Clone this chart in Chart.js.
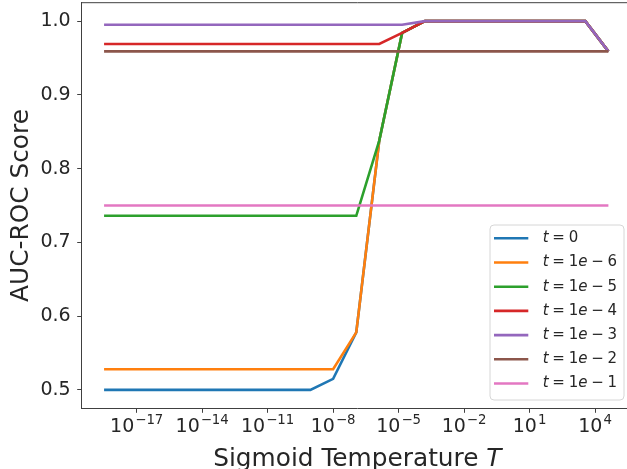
<!DOCTYPE html>
<html>
<head>
<meta charset="utf-8">
<script src="https://cdn.jsdelivr.net/npm/chart.js@4/dist/chart.umd.min.js"></script>
<style>
  html, body { margin: 0; padding: 0; background: #fff; overflow: hidden; width: 627px; height: 469px; }
  #wrap { width: 627px; height: 469px; overflow: hidden; position: relative; }
  canvas { display: block; }
</style>
</head>
<body>
<div id="wrap"><canvas id="chart" width="640" height="469"></canvas></div>
<script>
// Sigmoid temperatures T (log-spaced sweep)
const temperatures = [3.2e-19, 3.6e-18, 4.1e-17, 4.6e-16, 5.1e-15, 5.8e-14, 6.5e-13, 7.2e-12,
  8.1e-11, 9.1e-10, 1.0e-8, 1.15e-7, 1.3e-6, 1.45e-5, 1.6e-4, 1.8e-3, 2.0e-2, 0.23, 2.6, 29,
  320, 3600, 41000];

// AUC-ROC score per threshold t
const seriesLabels = ['t = 0', 't = 1e − 6', 't = 1e − 5', 't = 1e − 4', 't = 1e − 3', 't = 1e − 2', 't = 1e − 1'];
const aucT0    = [0.5, 0.5, 0.5, 0.5, 0.5, 0.5, 0.5, 0.5, 0.5, 0.5, 0.515, 0.578, 0.838, 0.984, 1.0, 1.0, 1.0, 1.0, 1.0, 1.0, 1.0, 1.0, 0.959];
const aucT1e6  = [0.528, 0.528, 0.528, 0.528, 0.528, 0.528, 0.528, 0.528, 0.528, 0.528, 0.528, 0.578, 0.838, 0.984, 1.0, 1.0, 1.0, 1.0, 1.0, 1.0, 1.0, 1.0, 0.959];
const aucT1e5  = [0.736, 0.736, 0.736, 0.736, 0.736, 0.736, 0.736, 0.736, 0.736, 0.736, 0.736, 0.736, 0.838, 0.984, 1.0, 1.0, 1.0, 1.0, 1.0, 1.0, 1.0, 1.0, 0.959];
const aucT1e4  = [0.969, 0.969, 0.969, 0.969, 0.969, 0.969, 0.969, 0.969, 0.969, 0.969, 0.969, 0.969, 0.969, 0.984, 1.0, 1.0, 1.0, 1.0, 1.0, 1.0, 1.0, 1.0, 0.959];
const aucT1e3  = [0.995, 0.995, 0.995, 0.995, 0.995, 0.995, 0.995, 0.995, 0.995, 0.995, 0.995, 0.995, 0.995, 0.995, 1.0, 1.0, 1.0, 1.0, 1.0, 1.0, 1.0, 1.0, 0.959];
const aucT1e2  = [0.959, 0.959, 0.959, 0.959, 0.959, 0.959, 0.959, 0.959, 0.959, 0.959, 0.959, 0.959, 0.959, 0.959, 0.959, 0.959, 0.959, 0.959, 0.959, 0.959, 0.959, 0.959, 0.959];
const aucT1e1  = [0.75, 0.75, 0.75, 0.75, 0.75, 0.75, 0.75, 0.75, 0.75, 0.75, 0.75, 0.75, 0.75, 0.75, 0.75, 0.75, 0.75, 0.75, 0.75, 0.75, 0.75, 0.75, 0.75];

// Axis ticks
const xTickExponents = [-17, -14, -11, -8, -5, -2, 1, 4];
const yTickValues = [0.5, 0.6, 0.7, 0.8, 0.9, 1.0];

const seriesValues = [aucT0, aucT1e6, aucT1e5, aucT1e4, aucT1e3, aucT1e2, aucT1e1];
const palette = ['#1f77b4', '#ff7f0e', '#2ca02c', '#d62728', '#9467bd', '#8c564b', '#e377c2'];
const FONT = '"DejaVu Sans", "Liberation Sans", sans-serif';
const TEXT = '#262626';
const SPINE = '#404040';
const TICK_SIZE = 19;
const TITLE_SIZE = 24.8;

// Draws text where letters are italic (math style), spaces are operator gaps
function drawMathText(ctx, text, x, y, size) {
  let cx = x;
  for (const ch of text) {
    if (ch === ' ') { cx += size * 0.25; continue; }
    const italic = /[a-zA-Z]/.test(ch);
    ctx.font = (italic ? 'italic ' : '') + size + 'px ' + FONT;
    ctx.fillText(ch, cx, y);
    cx += ctx.measureText(ch).width;
  }
}

const frame = {
  id: 'frame',
  afterDraw(chart) {
    const { ctx, chartArea: ca } = chart;
    const xs = chart.scales.x;
    ctx.save();
    // top spine
    ctx.strokeStyle = SPINE;
    ctx.lineWidth = 1;
    ctx.beginPath();
    ctx.moveTo(ca.left, ca.top);
    ctx.lineTo(ca.right, ca.top);
    ctx.stroke();

    // power-of-ten tick labels with raised exponents
    ctx.fillStyle = TEXT;
    ctx.textBaseline = 'alphabetic';
    ctx.textAlign = 'left';
    const sup = 13.3;
    xs.ticks.forEach(t => {
      const e = Math.round(Math.log10(t.value));
      const px = xs.getPixelForValue(t.value);
      const expText = (e < 0 ? '−' : '') + Math.abs(e);
      ctx.font = TICK_SIZE + 'px ' + FONT;
      const w1 = ctx.measureText('10').width;
      ctx.font = sup + 'px ' + FONT;
      const w2 = ctx.measureText(expText).width;
      const left = px - (w1 + w2 + 1) / 2;
      ctx.font = TICK_SIZE + 'px ' + FONT;
      ctx.fillText('10', left, 432);
      ctx.font = sup + 'px ' + FONT;
      ctx.fillText(expText, left + w1 + 1, 423.5);
    });

    // x axis title with italic T
    const partA = 'Sigmoid Temperature ';
    ctx.font = TITLE_SIZE + 'px ' + FONT;
    const wA = ctx.measureText(partA).width;
    ctx.font = 'italic ' + TITLE_SIZE + 'px ' + FONT;
    const wB = ctx.measureText('T').width;
    const cx = (ca.left + ca.right) / 2;
    const x0 = cx - (wA + wB) / 2;
    ctx.font = TITLE_SIZE + 'px ' + FONT;
    ctx.fillText(partA, x0, 466);
    ctx.font = 'italic ' + TITLE_SIZE + 'px ' + FONT;
    ctx.fillText('T', x0 + wA, 466);
    ctx.restore();
  }
};

const legendBox = {
  id: 'legendBox',
  afterDraw(chart) {
    const { ctx, chartArea: ca } = chart;
    const ds = chart.data.datasets;
    const fs = 15, rowH = 24.2, w = 134, h = 175, r = 4;
    const x0 = ca.right - 9 - w;
    const y0 = ca.bottom - 8.3 - h;
    ctx.save();
    ctx.beginPath();
    ctx.moveTo(x0 + r, y0);
    ctx.lineTo(x0 + w - r, y0);
    ctx.arcTo(x0 + w, y0, x0 + w, y0 + r, r);
    ctx.lineTo(x0 + w, y0 + h - r);
    ctx.arcTo(x0 + w, y0 + h, x0 + w - r, y0 + h, r);
    ctx.lineTo(x0 + r, y0 + h);
    ctx.arcTo(x0, y0 + h, x0, y0 + h - r, r);
    ctx.lineTo(x0, y0 + r);
    ctx.arcTo(x0, y0, x0 + r, y0, r);
    ctx.closePath();
    ctx.fillStyle = 'rgba(255,255,255,0.8)';
    ctx.fill();
    ctx.strokeStyle = '#d6d6d6';
    ctx.lineWidth = 1;
    ctx.stroke();

    ds.forEach((d, i) => {
      const cy = y0 + 13.3 + i * rowH;
      ctx.strokeStyle = d.borderColor;
      ctx.lineWidth = d.borderWidth;
      ctx.beginPath();
      ctx.moveTo(x0 + 4, cy);
      ctx.lineTo(x0 + 38.3, cy);
      ctx.stroke();
      ctx.fillStyle = TEXT;
      ctx.textBaseline = 'middle';
      drawMathText(ctx, d.label, x0 + 52.7, cy, fs);
    });
    ctx.restore();
  }
};

const datasets = seriesValues.map((vals, i) => ({
  label: seriesLabels[i],
  data: temperatures.map((t, j) => ({ x: t, y: vals[j] })),
  borderColor: palette[i],
  backgroundColor: palette[i],
  borderWidth: 2.6,
  pointRadius: 0,
  tension: 0,
  fill: false,
  order: seriesValues.length - i
}));

new Chart(document.getElementById('chart'), {
  type: 'line',
  data: { datasets },
  options: {
    responsive: false,
    animation: false,
    events: [],
    layout: { padding: { top: 2.7, right: 7, left: 0, bottom: 0 } },
    plugins: { legend: { display: false }, tooltip: { enabled: false } },
    scales: {
      x: {
        type: 'logarithmic',
        min: Math.pow(10, -19.52),
        max: Math.pow(10, 5.74),
        afterBuildTicks: s => { s.ticks = xTickExponents.map(e => ({ value: Math.pow(10, e) })); },
        afterFit: s => { s.height = 60.7; s.paddingLeft = 0; s.paddingRight = 0; },
        ticks: { display: false, autoSkip: false, maxRotation: 0 },
        grid: { display: true, drawOnChartArea: false, drawTicks: true, tickLength: 4.5, color: SPINE, tickWidth: 1 },
        border: { display: true, color: SPINE, width: 1 },
        title: { display: false }
      },
      y: {
        min: 0.475,
        max: 1.025,
        afterBuildTicks: s => { s.ticks = yTickValues.map(v => ({ value: v })); },
        afterFit: s => { s.width = 81.7; s.paddingTop = 0; s.paddingBottom = 0; },
        ticks: {
          callback: v => Number(v).toFixed(1),
          font: { family: FONT, size: TICK_SIZE },
          color: TEXT,
          padding: 6.5
        },
        grid: { display: true, drawOnChartArea: false, drawTicks: true, tickLength: 4.5, color: SPINE, tickWidth: 1 },
        border: { display: true, color: SPINE, width: 1 },
        title: {
          display: true,
          text: 'AUC-ROC Score',
          font: { family: FONT, size: TITLE_SIZE, lineHeight: 1 },
          color: TEXT,
          padding: { top: 9.3, bottom: 0 }
        }
      }
    }
  },
  plugins: [frame, legendBox]
});
</script>
</body>
</html>
